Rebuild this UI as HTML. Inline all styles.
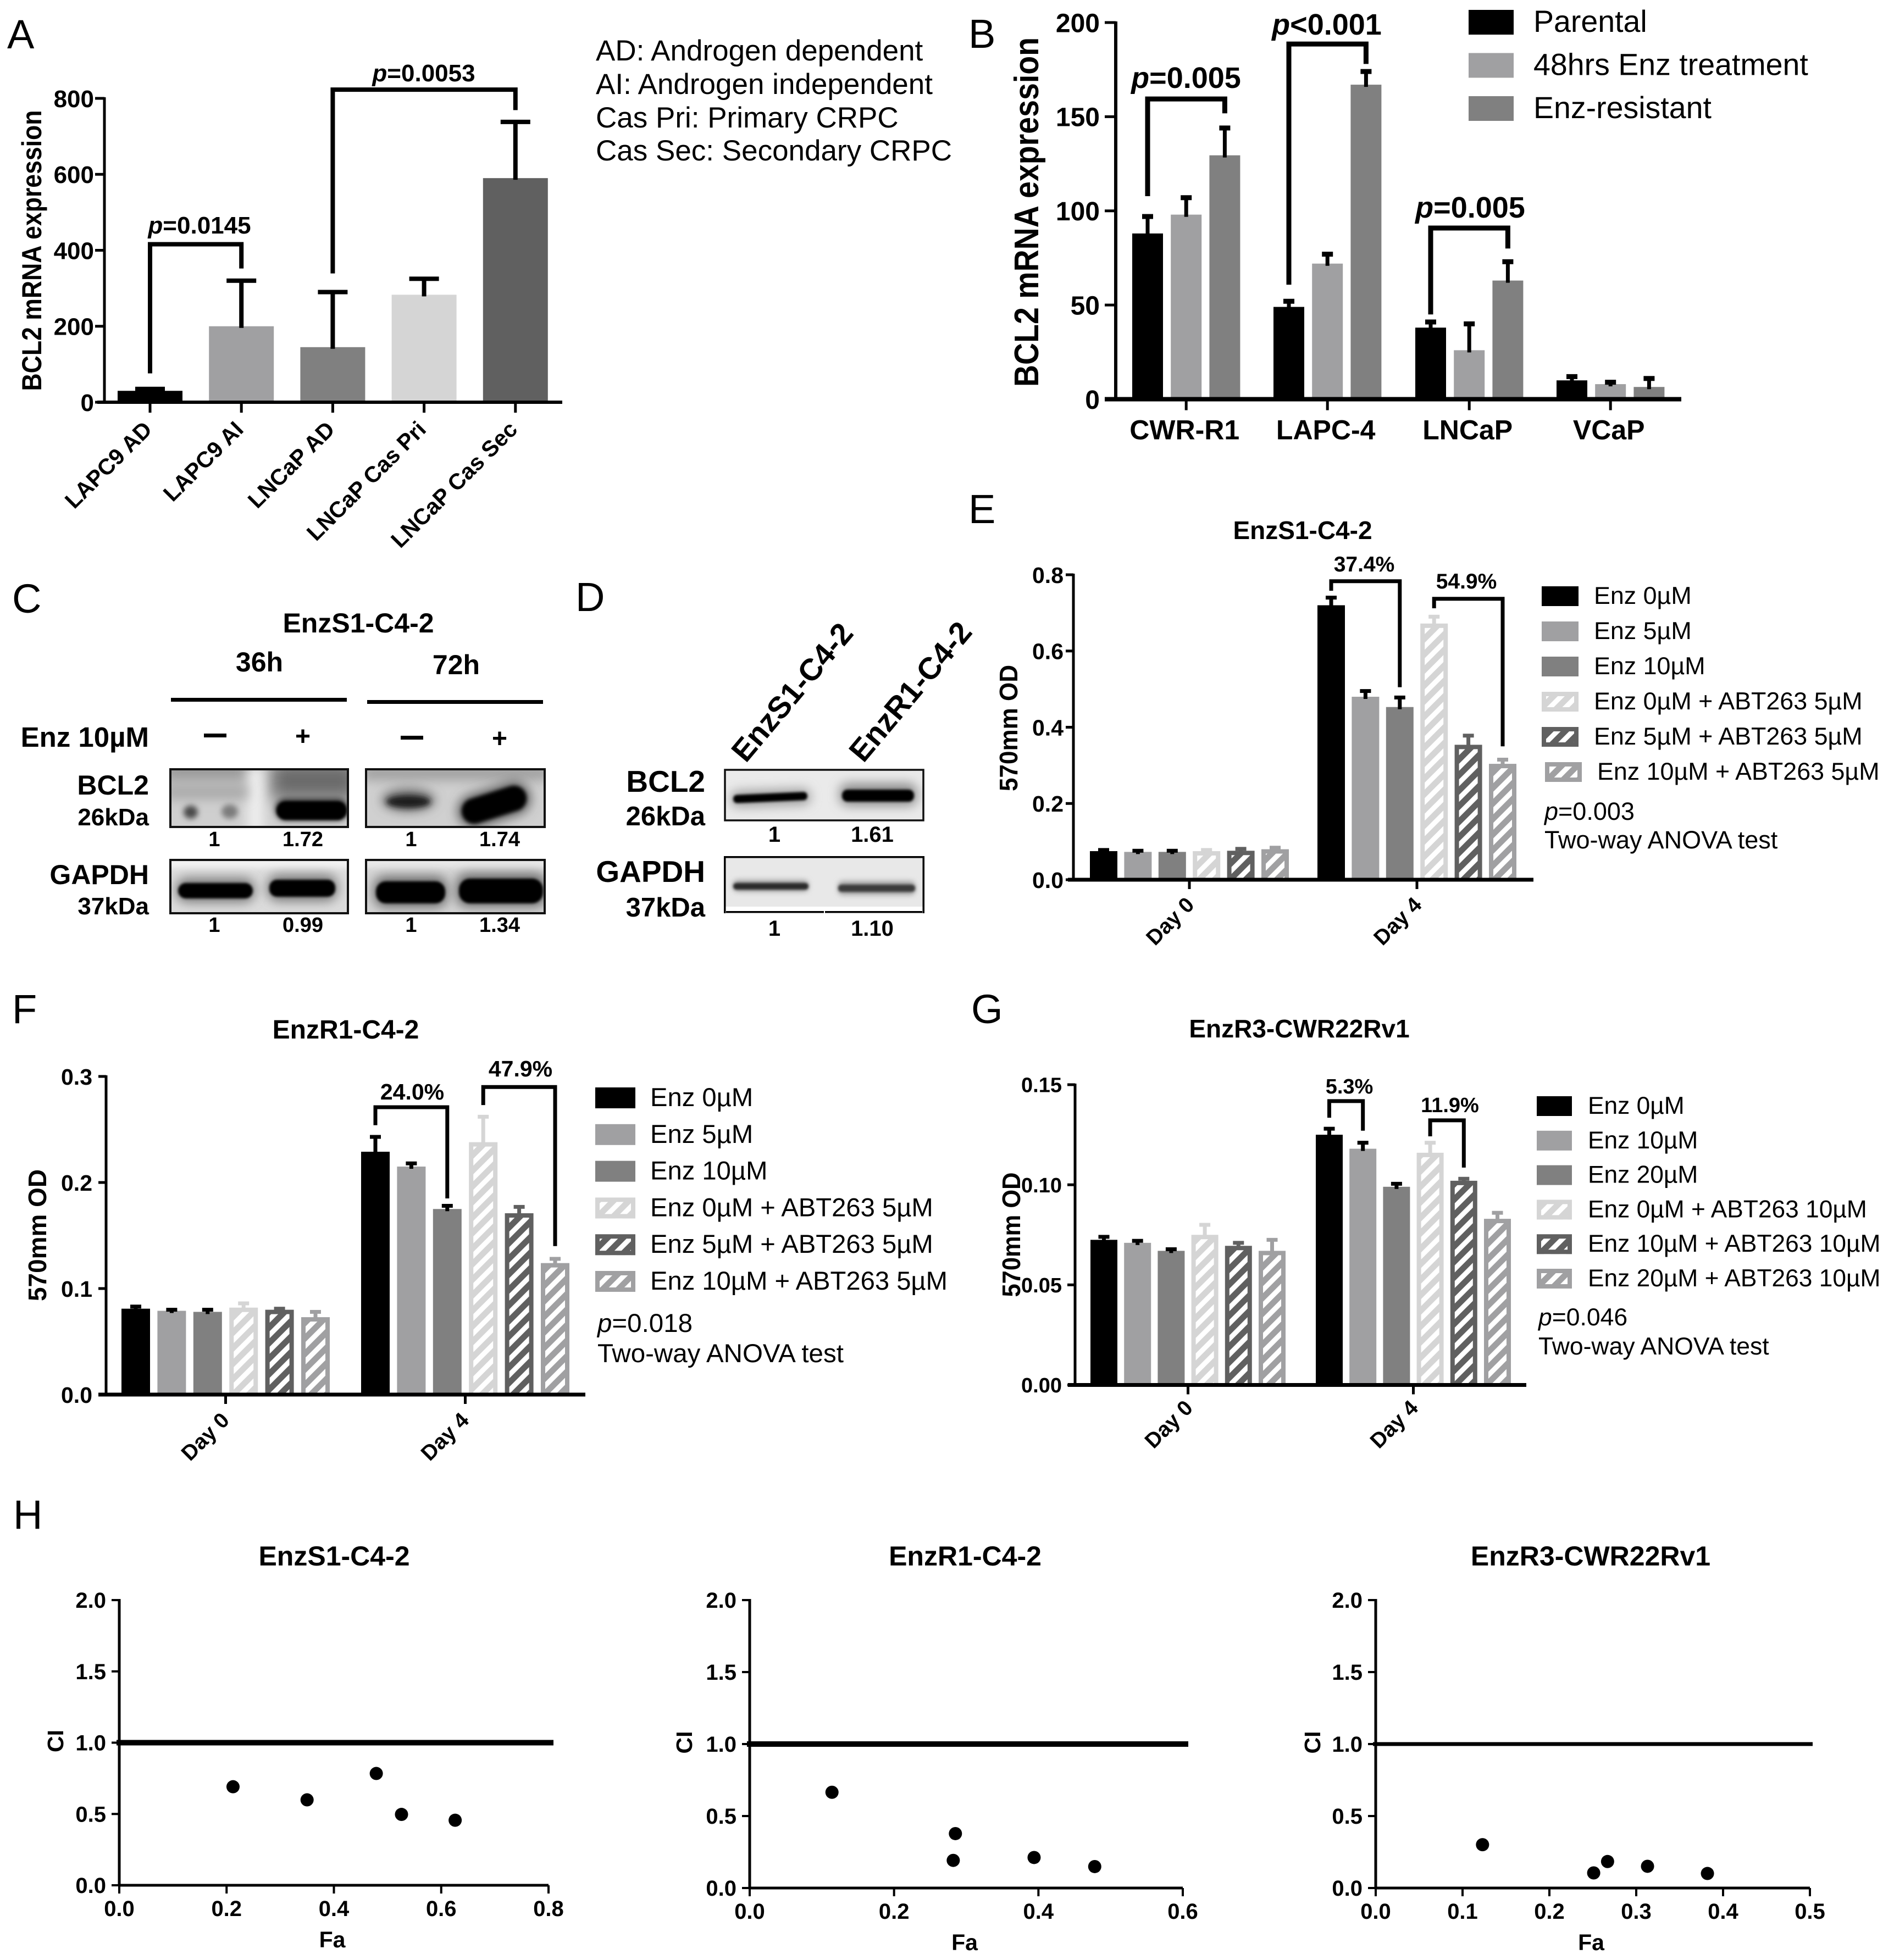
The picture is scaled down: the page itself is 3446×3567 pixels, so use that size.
<!DOCTYPE html>
<html lang="en">
<head>
<meta charset="utf-8">
<title>BCL2 expression multi-panel figure</title>
<style>
html,body{margin:0;padding:0;background:#fff;}
svg{display:block;}
text{font-family:"Liberation Sans",sans-serif;fill:#000;}
.b{font-weight:bold;}
</style>
</head>
<body>
<svg id="fig" xmlns="http://www.w3.org/2000/svg" width="3446" height="3567" viewBox="0 0 3446 3567">
<defs>
<filter id="b2" x="-100%" y="-200%" width="300%" height="500%"><feGaussianBlur stdDeviation="2.5"/></filter>
<filter id="b5" x="-100%" y="-200%" width="300%" height="500%"><feGaussianBlur stdDeviation="5"/></filter>
<filter id="b10" x="-100%" y="-200%" width="300%" height="500%"><feGaussianBlur stdDeviation="10"/></filter>
<filter id="b16" x="-100%" y="-200%" width="300%" height="500%"><feGaussianBlur stdDeviation="16"/></filter>
<filter id="bl2" filterUnits="userSpaceOnUse" x="650" y="1380" width="360" height="150"><feGaussianBlur stdDeviation="3.5"/></filter>
<filter id="bl10" filterUnits="userSpaceOnUse" x="650" y="1380" width="360" height="150"><feGaussianBlur stdDeviation="10"/></filter>
<clipPath id="c1"><rect x="310" y="1400" width="323" height="105"/></clipPath>
<clipPath id="c2"><rect x="666" y="1400" width="325" height="105"/></clipPath>
<clipPath id="c3"><rect x="310" y="1565" width="323" height="97"/></clipPath>
<clipPath id="c4"><rect x="666" y="1565" width="325" height="97"/></clipPath>
<clipPath id="c5"><rect x="1319" y="1401" width="361" height="92"/></clipPath>
<clipPath id="c6"><rect x="1319" y="1560" width="361" height="90"/></clipPath>
</defs>
<rect x="0" y="0" width="3446" height="3567" fill="#fff"/>

<!-- panel letters -->
<text x="13" y="88" font-size="74">A</text>
<text x="1762" y="87" font-size="74">B</text>
<text x="22" y="1115" font-size="74">C</text>
<text x="1047" y="1112" font-size="74">D</text>
<text x="1762" y="952" font-size="74">E</text>
<text x="22" y="1862" font-size="74">F</text>
<text x="1767" y="1862" font-size="74">G</text>
<text x="24" y="2782" font-size="74">H</text>

<!-- panel A notes -->
<g font-size="53">
<text x="1084" y="110">AD: Androgen dependent</text>
<text x="1084" y="171">AI: Androgen independent</text>
<text x="1084" y="232">Cas Pri: Primary CRPC</text>
<text x="1084" y="292">Cas Sec: Secondary CRPC</text>
</g>
<text class="b" x="363" y="425" font-size="44" text-anchor="middle"><tspan font-style="italic">p</tspan>=0.0145</text>
<text class="b" x="771" y="148" font-size="44" text-anchor="middle"><tspan font-style="italic">p</tspan>=0.0053</text>

<!-- panel B annotations -->
<text class="b" x="2158" y="160" font-size="54" text-anchor="middle"><tspan font-style="italic">p</tspan>=0.005</text>
<text class="b" x="2414" y="63" font-size="54" text-anchor="middle"><tspan font-style="italic">p</tspan>&lt;0.001</text>
<text class="b" x="2675" y="396" font-size="54" text-anchor="middle"><tspan font-style="italic">p</tspan>=0.005</text>

<!-- panel C: western blots -->
<g>
<text class="b" x="652" y="1151" font-size="50" text-anchor="middle">EnzS1-C4-2</text>
<text class="b" x="472" y="1222" font-size="50" text-anchor="middle">36h</text>
<text class="b" x="830" y="1227" font-size="50" text-anchor="middle">72h</text>
<rect x="311" y="1270" width="320" height="7"/>
<rect x="668" y="1274" width="320" height="7"/>
<text class="b" x="271" y="1359" font-size="51" text-anchor="end">Enz 10µM</text>
<rect x="371" y="1335" width="41" height="7"/>
<rect x="729" y="1339" width="41" height="7"/>
<text class="b" x="551" y="1356" font-size="48" text-anchor="middle">+</text>
<text class="b" x="909" y="1360" font-size="48" text-anchor="middle">+</text>
<text class="b" x="271" y="1446" font-size="50" text-anchor="end">BCL2</text>
<text class="b" x="271" y="1502" font-size="44" text-anchor="end">26kDa</text>
<text class="b" x="271" y="1609" font-size="50" text-anchor="end">GAPDH</text>
<text class="b" x="271" y="1664" font-size="44" text-anchor="end">37kDa</text>

<g clip-path="url(#c1)">
<rect x="310" y="1400" width="323" height="105" fill="#cfcfcf"/>
<rect x="290" y="1385" width="175" height="34" fill="#8c8c8c" filter="url(#b16)"/>
<rect x="492" y="1385" width="160" height="70" fill="#6a6a6a" filter="url(#b16)"/>
<rect x="450" y="1395" width="30" height="120" fill="#eeeeee" filter="url(#b10)"/>
<rect x="300" y="1430" width="150" height="24" fill="#a8a8a8" filter="url(#b10)"/>
<ellipse cx="347" cy="1478" rx="13" ry="12" fill="#4a4a4a" filter="url(#b5)"/>
<ellipse cx="418" cy="1477" rx="15" ry="13" fill="#7c7c7c" filter="url(#b5)"/>
<rect x="500" y="1452" width="134" height="42" rx="20" fill="#444" filter="url(#b5)"/>
<rect x="503" y="1458" width="128" height="34" rx="17" fill="#000" filter="url(#b2)"/>
</g>
<rect x="310" y="1400" width="323" height="105" fill="none" stroke="#111" stroke-width="4"/>

<g clip-path="url(#c2)">
<rect x="666" y="1400" width="325" height="105" fill="#d0d0d0"/>
<rect x="660" y="1392" width="340" height="28" fill="#a0a0a0" filter="url(#b10)"/>
<ellipse cx="743" cy="1456" rx="48" ry="20" fill="#666" filter="url(#b10)"/>
<ellipse cx="743" cy="1459" rx="40" ry="11" fill="#1c1c1c" filter="url(#b5)"/>
<line x1="863" y1="1476" x2="935" y2="1453" stroke="#555" stroke-width="60" stroke-linecap="round" filter="url(#bl10)"/>
<line x1="863" y1="1476" x2="935" y2="1453" stroke="#000" stroke-width="46" stroke-linecap="round" filter="url(#bl2)"/>
</g>
<rect x="666" y="1400" width="325" height="105" fill="none" stroke="#111" stroke-width="4"/>

<g clip-path="url(#c3)">
<rect x="310" y="1565" width="323" height="97" fill="#dcdcdc"/>
<rect x="300" y="1560" width="340" height="20" fill="#f2f2f2" filter="url(#b5)"/>
<rect x="320" y="1598" width="144" height="44" rx="20" fill="#777" filter="url(#b10)"/>
<rect x="486" y="1592" width="128" height="48" rx="20" fill="#777" filter="url(#b10)"/>
<rect x="324" y="1607" width="136" height="28" rx="14" fill="#000" filter="url(#b2)"/>
<rect x="490" y="1601" width="120" height="31" rx="14" fill="#000" filter="url(#b2)"/>
</g>
<rect x="310" y="1565" width="323" height="97" fill="none" stroke="#111" stroke-width="4"/>

<g clip-path="url(#c4)">
<rect x="666" y="1565" width="325" height="97" fill="#d4d4d4"/>
<rect x="660" y="1560" width="340" height="20" fill="#e8e8e8" filter="url(#b5)"/>
<rect x="680" y="1595" width="134" height="56" rx="20" fill="#666" filter="url(#b10)"/>
<rect x="830" y="1590" width="164" height="60" rx="20" fill="#666" filter="url(#b10)"/>
<rect x="684" y="1604" width="126" height="40" rx="18" fill="#000" filter="url(#b2)"/>
<rect x="835" y="1599" width="153" height="45" rx="20" fill="#000" filter="url(#b2)"/>
</g>
<rect x="666" y="1565" width="325" height="97" fill="none" stroke="#111" stroke-width="4"/>

<text class="b" x="390" y="1540" font-size="38" text-anchor="middle">1</text>
<text class="b" x="551" y="1540" font-size="38" text-anchor="middle">1.72</text>
<text class="b" x="748" y="1540" font-size="38" text-anchor="middle">1</text>
<text class="b" x="909" y="1540" font-size="38" text-anchor="middle">1.74</text>
<text class="b" x="390" y="1696" font-size="38" text-anchor="middle">1</text>
<text class="b" x="551" y="1696" font-size="38" text-anchor="middle">0.99</text>
<text class="b" x="748" y="1696" font-size="38" text-anchor="middle">1</text>
<text class="b" x="909" y="1696" font-size="38" text-anchor="middle">1.34</text>
</g>

<!-- panel D: western blots -->
<g>
<text class="b" x="1357" y="1390" font-size="56" transform="rotate(-50 1357 1390)">EnzS1-C4-2</text>
<text class="b" x="1571" y="1390" font-size="56" transform="rotate(-50 1571 1390)">EnzR1-C4-2</text>
<text class="b" x="1283" y="1441" font-size="55" text-anchor="end">BCL2</text>
<text class="b" x="1283" y="1502" font-size="49" text-anchor="end">26kDa</text>
<text class="b" x="1283" y="1605" font-size="55" text-anchor="end">GAPDH</text>
<text class="b" x="1283" y="1668" font-size="49" text-anchor="end">37kDa</text>

<g clip-path="url(#c5)">
<rect x="1319" y="1401" width="361" height="92" fill="#eaeaea"/>
<rect x="1330" y="1438" width="144" height="28" rx="12" fill="#999" filter="url(#b10)" transform="rotate(-2 1400 1452)"/>
<rect x="1528" y="1426" width="140" height="40" rx="14" fill="#888" filter="url(#b10)"/>
<rect x="1334" y="1444" width="135" height="15" rx="7" fill="#000" filter="url(#b2)" transform="rotate(-2.5 1400 1452)"/>
<rect x="1532" y="1437" width="131" height="22" rx="10" fill="#000" filter="url(#b2)"/>
</g>
<rect x="1319" y="1401" width="361" height="92" fill="none" stroke="#111" stroke-width="3.5"/>

<g clip-path="url(#c6)">
<rect x="1319" y="1560" width="361" height="90" fill="#e8e8e8"/>
<rect x="1334" y="1602" width="137" height="20" rx="8" fill="#999" filter="url(#b5)"/>
<rect x="1525" y="1604" width="140" height="24" rx="8" fill="#999" filter="url(#b5)"/>
<rect x="1334" y="1607" width="137" height="12" rx="6" fill="#2a2a2a" filter="url(#b2)"/>
<rect x="1525" y="1610" width="140" height="13" rx="6" fill="#3a3a3a" filter="url(#b2)"/>
</g>
<rect x="1317" y="1558" width="365" height="3.5"/>
<rect x="1317" y="1558" width="3.5" height="104"/>
<rect x="1678.5" y="1558" width="3.5" height="104"/>
<rect x="1321" y="1658" width="178" height="3.5"/>
<rect x="1501" y="1658" width="177" height="3.5"/>

<text class="b" x="1409" y="1532" font-size="40" text-anchor="middle">1</text>
<text class="b" x="1587" y="1532" font-size="40" text-anchor="middle">1.61</text>
<text class="b" x="1409" y="1703" font-size="40" text-anchor="middle">1</text>
<text class="b" x="1587" y="1703" font-size="40" text-anchor="middle">1.10</text>
</g>

<!-- panel E,F,G titles and annotations -->
<text class="b" x="2370" y="981" font-size="46" text-anchor="middle">EnzS1-C4-2</text>
<text class="b" x="2482" y="1040" font-size="39" text-anchor="middle">37.4%</text>
<text class="b" x="2668" y="1071" font-size="39" text-anchor="middle">54.9%</text>
<text x="2810" y="1492" font-size="45"><tspan font-style="italic">p</tspan>=0.003</text>
<text x="2810" y="1544" font-size="45">Two-way ANOVA test</text>

<text class="b" x="629" y="1890" font-size="48" text-anchor="middle">EnzR1-C4-2</text>
<text class="b" x="750" y="2001" font-size="41" text-anchor="middle">24.0%</text>
<text class="b" x="947" y="1959" font-size="41" text-anchor="middle">47.9%</text>
<text x="1087" y="2424" font-size="47.5"><tspan font-style="italic">p</tspan>=0.018</text>
<text x="1087" y="2479" font-size="47.5">Two-way ANOVA test</text>

<text class="b" x="2364" y="1888" font-size="46" text-anchor="middle">EnzR3-CWR22Rv1</text>
<text class="b" x="2455" y="1990" font-size="38" text-anchor="middle">5.3%</text>
<text class="b" x="2638" y="2024" font-size="38" text-anchor="middle">11.9%</text>
<text x="2799" y="2412" font-size="44.5"><tspan font-style="italic">p</tspan>=0.046</text>
<text x="2799" y="2465" font-size="44.5">Two-way ANOVA test</text>

<!-- panel H titles -->
<text class="b" x="608" y="2849" font-size="50" text-anchor="middle">EnzS1-C4-2</text>
<text class="b" x="1756" y="2849" font-size="50" text-anchor="middle">EnzR1-C4-2</text>
<text class="b" x="2894" y="2849" font-size="50" text-anchor="middle">EnzR3-CWR22Rv1</text>

<g id="charts"></g>
</svg>

<script>
// ---------- Panel A ----------
const aCategories = ['LAPC9 AD', 'LAPC9 AI', 'LNCaP AD', 'LNCaP Cas Pri', 'LNCaP Cas Sec'];
const aValues = [30, 200, 145, 283, 590];
const aErrorTops = [35, 320, 290, 325, 738];
const aTickValues = [0, 200, 400, 600, 800];
const aTickLabels = ['0', '200', '400', '600', '800'];
const aBracket1 = [0, 1, 416, 76, 352];
const aBracket2 = [2, 4, 823, 339, 769];

// ---------- Panel B ----------
const bCategories = ['CWR-R1', 'LAPC-4', 'LNCaP', 'VCaP'];
const bSeries = ['Parental', '48hrs Enz treatment', 'Enz-resistant'];
const bParental = [88, 49, 38, 10];
const bTreated = [98, 72, 26, 8];
const bResistant = [129.5, 167, 63, 6.5];
const bParentalTops = [97, 52, 41, 12];
const bTreatedTops = [107, 77, 40, 9];
const bResistantTops = [144, 174, 73, 11];
const bTickValues = [0, 50, 100, 150, 200];
const bTickLabels = ['0', '50', '100', '150', '200'];
const bBracket1 = [0, 0, 2, 159.4, 107.8, 151.8];
const bBracket2 = [1, 0, 2, 188.6, 60.8, 178];
const bBracket3 = [2, 0, 2, 90.9, 45, 80];

// ---------- Panel E ----------
const eSeries = ['Enz 0µM', 'Enz 5µM', 'Enz 10µM', 'Enz 0µM + ABT263 5µM', 'Enz 5µM + ABT263 5µM', 'Enz 10µM + ABT263 5µM'];
const dayCategories = ['Day 0', 'Day 4'];
const eDay0 = [0.075, 0.073, 0.073, 0.075, 0.076, 0.080];
const eDay4 = [0.72, 0.48, 0.453, 0.672, 0.354, 0.304];
const eDay0Tops = [0.078, 0.076, 0.076, 0.078, 0.081, 0.084];
const eDay4Tops = [0.74, 0.495, 0.478, 0.69, 0.378, 0.315];
const eTickValues = [0, 0.2, 0.4, 0.6, 0.8];
const eTickLabels = ['0.0', '0.2', '0.4', '0.6', '0.8'];
const eBracket1 = [1, 0, 2, 0.783, 0.758, 0.505];
const eBracket2 = [1, 3, 5, 0.737, 0.712, 0.350];

// ---------- Panel F ----------
const fSeries = ['Enz 0µM', 'Enz 5µM', 'Enz 10µM', 'Enz 0µM + ABT263 5µM', 'Enz 5µM + ABT263 5µM', 'Enz 10µM + ABT263 5µM'];
const fDay0 = [0.081, 0.079, 0.078, 0.082, 0.080, 0.073];
const fDay4 = [0.229, 0.215, 0.175, 0.238, 0.171, 0.124];
const fDay0Tops = [0.083, 0.080, 0.080, 0.086, 0.081, 0.078];
const fDay4Tops = [0.243, 0.218, 0.178, 0.262, 0.177, 0.128];
const fTickValues = [0, 0.1, 0.2, 0.3];
const fTickLabels = ['0.0', '0.1', '0.2', '0.3'];
const fBracket1 = [1, 0, 2, 0.271, 0.254, 0.185];
const fBracket2 = [1, 3, 5, 0.290, 0.273, 0.140];

// ---------- Panel G ----------
const gSeries = ['Enz 0µM', 'Enz 10µM', 'Enz 20µM', 'Enz 0µM + ABT263 10µM', 'Enz 10µM + ABT263 10µM', 'Enz 20µM + ABT263 10µM'];
const gDay0 = [0.0725, 0.071, 0.067, 0.075, 0.0695, 0.067];
const gDay4 = [0.125, 0.118, 0.099, 0.116, 0.102, 0.083];
const gDay0Tops = [0.074, 0.072, 0.0678, 0.080, 0.071, 0.0725];
const gDay4Tops = [0.128, 0.121, 0.1005, 0.121, 0.103, 0.086];
const gTickValues = [0, 0.05, 0.10, 0.15];
const gTickLabels = ['0.00', '0.05', '0.10', '0.15'];
const gBracket1 = [1, 0, 1, 0.1418, 0.1335, 0.127];
const gBracket2 = [1, 3, 4, 0.1322, 0.1242, 0.1086];

// ---------- Panel H ----------
const h1Fa = [0.212, 0.35, 0.479, 0.526, 0.626];
const h1Ci = [0.691, 0.599, 0.784, 0.497, 0.456];
const h2Fa = [0.114, 0.285, 0.282, 0.394, 0.478];
const h2Ci = [0.665, 0.378, 0.192, 0.212, 0.149];
const h3Fa = [0.123, 0.251, 0.267, 0.313, 0.382];
const h3Ci = [0.301, 0.105, 0.184, 0.151, 0.101];
const hYTicks = [0, 0.5, 1.0, 1.5, 2.0];
const hYLabels = ['0.0', '0.5', '1.0', '1.5', '2.0'];
const h1XTicks = [0, 0.2, 0.4, 0.6, 0.8];
const h1XLabels = ['0.0', '0.2', '0.4', '0.6', '0.8'];
const h2XTicks = [0, 0.2, 0.4, 0.6];
const h2XLabels = ['0.0', '0.2', '0.4', '0.6'];
const h3XTicks = [0, 0.1, 0.2, 0.3, 0.4, 0.5];
const h3XLabels = ['0.0', '0.1', '0.2', '0.3', '0.4', '0.5'];
const referenceCi = 1.0;

// ---------- Styling (not data) ----------
const C_BLACK = '#000', C_MID = '#a0a0a2', C_DARK = '#808080', C_LIGHT = '#d5d5d5', C_DEEP = '#606060';
const sixStyles = [
  {fill: C_BLACK, err: '#000'},
  {fill: C_MID, err: '#000'},
  {fill: C_DARK, err: '#000'},
  {fill: C_LIGHT, err: C_LIGHT, hatch: true},
  {fill: C_DEEP, err: C_DEEP, hatch: true},
  {fill: C_MID, err: C_MID, hatch: true}
];
const threeStyles = [{fill: C_BLACK, err: '#000'}, {fill: C_MID, err: '#000'}, {fill: C_DARK, err: '#000'}];
const fiveStyles = [{fill: C_BLACK, err: '#000'}, {fill: C_MID, err: '#000'}, {fill: C_DARK, err: '#000'}, {fill: C_LIGHT, err: '#000'}, {fill: C_DEEP, err: '#000'}];

const NS = 'http://www.w3.org/2000/svg';
const root = document.getElementById('charts');
const defs = document.querySelector('#fig defs');

function mk(tag, attrs, parent, txt) {
  const e = document.createElementNS(NS, tag);
  for (const k in attrs) e.setAttribute(k, attrs[k]);
  if (txt !== undefined) e.textContent = txt;
  parent.appendChild(e);
  return e;
}

// white hatch pattern
const hatch = mk('pattern', {id: 'hatch', patternUnits: 'userSpaceOnUse', width: 20, height: 20, patternTransform: 'rotate(45)'}, defs);
mk('rect', {x: 0, y: 0, width: 9, height: 20, fill: '#fff'}, hatch);

function drawHatched(g, x, y, w, h, color, border) {
  const outer = mk('rect', {x: x, y: y, width: w, height: h, fill: color}, g);
  
  
  const inner = mk('rect', {x: x + border, y: y + border, width: Math.max(0, w - 2 * border), height: Math.max(0, h - border), fill: 'url(#hatch)'}, g);
  
  
}

function drawYTitle(parent, text, cx, cy, len, size) {
  const t = mk('text', {x: cx, y: cy, 'font-size': size, 'font-weight': 'bold', 'text-anchor': 'middle', textLength: len, lengthAdjust: 'spacingAndGlyphs', transform: 'rotate(-90 ' + cx + ' ' + cy + ')'}, parent, text);
  
  
}

function drawBarChart(c) {
  const g = mk('g', {}, root);
  
  
  const y = v => c.y0 - (v / c.yMax) * (c.y0 - c.y1);
  const barX = (gi, si) => c.starts[gi] + si * c.step;
  const barC = (gi, si) => barX(gi, si) + c.barW / 2;

  // bars
  c.values.forEach((grp, gi) => {
    grp.forEach((v, si) => {
      const st = c.styles[si];
      if (st.hatch) {
        drawHatched(g, barX(gi, si), y(v), c.barW, c.y0 - y(v), st.fill, 8);
      } else {
        const r = mk('rect', {x: barX(gi, si), y: y(v), width: c.barW, height: c.y0 - y(v), fill: st.fill}, g);
        
        
      }
    });
  });
  // error bars
  c.tops.forEach((grp, gi) => {
    grp.forEach((v, si) => {
      const st = c.styles[si];
      const cx = barC(gi, si);
      const stem = mk('rect', {x: cx - c.errW / 2, y: y(v), width: c.errW, height: Math.max(0, y(c.values[gi][si]) - y(v)) + c.errIn, fill: st.err}, g);
      
      
      const cap = mk('rect', {x: cx - c.capW / 2, y: y(v) - c.capH / 2, width: c.capW, height: c.capH, fill: st.err}, g);
      
      
    });
  });
  // axes
  const xAxis = mk('rect', {x: c.axisStart, y: c.y0 - c.xw / 2, width: c.axisEnd - c.axisStart, height: c.xw, fill: '#000'}, g);
  
  
  const yAxis = mk('rect', {x: c.ax - c.yw / 2, y: c.y1 - 2, width: c.yw, height: c.y0 - c.y1 + 2, fill: '#000'}, g);
  
  
  c.ticks.forEach((v, i) => {
    const tk = mk('rect', {x: c.ax - c.tickLenY, y: y(v) - 2.5, width: c.tickLenY, height: 5, fill: '#000'}, g);
    
    
    const lb = mk('text', {x: c.labelRight, y: y(v) + c.tickSize * 0.36, 'font-size': c.tickSize, 'font-weight': 'bold', 'text-anchor': 'end'}, g, c.tickLabels[i]);
    
    
  });
  // x ticks + labels
  const centers = c.perBar
    ? c.values[0].map((_, si) => barC(0, si))
    : c.values.map((grp, gi) => barC(gi, (grp.length - 1) / 2));
  centers.forEach((cx, i) => {
    const tk = mk('rect', {x: cx - 2.5, y: c.y0, width: 5, height: c.tickLenX, fill: '#000'}, g);
    
    
    if (c.labelRot) {
      const lx = cx + c.labelDx, ly = c.y0 + c.labelDy;
      const lb = mk('text', {x: lx, y: ly, 'font-size': c.labelSize, 'font-weight': 'bold', 'text-anchor': 'end', transform: 'rotate(-45 ' + lx + ' ' + ly + ')'}, g, c.categories[i]);
      
      
    } else {
      const lb = mk('text', {x: cx + c.labelDx, y: c.y0 + c.labelDy, 'font-size': c.labelSize, 'font-weight': 'bold', 'text-anchor': 'middle'}, g, c.categories[i]);
      
      
    }
  });
  drawYTitle(g, c.yTitle, c.titleX, c.titleY, c.titleLen, c.titleSize);
  // brackets
  c.brackets.forEach(b => {
    const xa = barC(b.g, b.from), xb = barC(b.g, b.to);
    const pts = [xa, y(b.left), xa, y(b.top), xb, y(b.top), xb, y(b.right)].join(' ');
    const br = mk('polyline', {points: pts, fill: 'none', stroke: '#000', 'stroke-width': c.brW, 'stroke-linejoin': 'miter'}, g);
    
    
  });
  // legend
  if (c.legend) {
    const L = c.legend;
    L.labels.forEach((txt, i) => {
      const last = i === L.labels.length - 1 && L.lastShift ? L.lastShift : 0;
      const sy = L.y + i * L.pitch;
      const st = c.styles[i];
      if (st.hatch) {
        drawHatched(g, L.x + last, sy, L.w, L.h, st.fill, 8);
        const closeB = mk('rect', {x: L.x + last, y: sy + L.h - 8, width: L.w, height: 8, fill: st.fill}, g);
        
        
      } else {
        const sw = mk('rect', {x: L.x + last, y: sy, width: L.w, height: L.h, fill: st.fill}, g);
        
        
      }
      const t = mk('text', {x: L.tx + last, y: sy + L.dy, 'font-size': L.size}, g, txt);
      
      
    });
  }
}

function bracketOf(arr, grp) {
  return grp === undefined
    ? {g: 0, from: arr[0], to: arr[1], top: arr[2], left: arr[3], right: arr[4]}
    : {g: grp, from: arr[1], to: arr[2], top: arr[3], left: arr[4], right: arr[5]};
}

// Panel A
drawBarChart({
  name: 'chart-a-bcl2-mrna', categories: aCategories, perBar: true,
  values: [aValues], tops: [aErrorTops], styles: fiveStyles,
  starts: [214], step: 166.2, barW: 118,
  y0: 732, y1: 179, yMax: 800, ax: 190, yw: 5, xw: 6, axisStart: 177, axisEnd: 1023,
  ticks: aTickValues, tickLabels: aTickLabels, tickLenY: 17, tickLenX: 19, tickSize: 44, labelRight: 171,
  labelRot: true, labelDx: 6, labelDy: 52, labelSize: 41,
  errW: 8, errIn: 3, capW: 54, capH: 8,
  yTitle: 'BCL2 mRNA expression', titleX: 75, titleY: 456, titleLen: 511, titleSize: 50,
  brW: 8, brackets: [bracketOf(aBracket1), bracketOf(aBracket2)]
});

// Panel B
drawBarChart({
  name: 'chart-b-bcl2-mrna', categories: bCategories,
  values: bCategories.map((_, i) => [bParental[i], bTreated[i], bResistant[i]]),
  tops: bCategories.map((_, i) => [bParentalTops[i], bTreatedTops[i], bResistantTops[i]]),
  styles: threeStyles,
  starts: [2060, 2317, 2575, 2832], step: 70.2, barW: 56,
  y0: 726.5, y1: 41, yMax: 200, ax: 2030, yw: 6, xw: 8, axisStart: 2010, axisEnd: 3059,
  ticks: bTickValues, tickLabels: bTickLabels, tickLenY: 20, tickLenX: 20, tickSize: 48, labelRight: 2001,
  labelSize: 50, labelDx: -3, labelDy: 73,
  errW: 7, errIn: 4, capW: 20, capH: 9,
  yTitle: 'BCL2 mRNA expression', titleX: 1889, titleY: 386, titleLen: 636, titleSize: 62,
  brW: 9, brackets: [bracketOf(bBracket1, bBracket1[0]), bracketOf(bBracket2, bBracket2[0]), bracketOf(bBracket3, bBracket3[0])],
  legend: {labels: bSeries, x: 2672, tx: 2790, y: 18, w: 82, h: 45, pitch: 78.5, dy: 40, size: 55.5}
});

// Panel E
drawBarChart({
  name: 'chart-e-viability', categories: dayCategories, labelRot: true,
  values: [eDay0, eDay4], tops: [eDay0Tops, eDay4Tops], styles: sixStyles,
  starts: [1983, 2397], step: 62.4, barW: 50,
  y0: 1601, y1: 1046, yMax: 0.8, ax: 1953, yw: 5, xw: 7, axisStart: 1943, axisEnd: 2790,
  ticks: eTickValues, tickLabels: eTickLabels, tickLenY: 14, tickLenX: 17, tickSize: 41, labelRight: 1935,
  labelDx: 11, labelDy: 48, labelSize: 39,
  errW: 7, errIn: 4, capW: 20, capH: 7,
  yTitle: '570mm OD', titleX: 1851, titleY: 1325, titleLen: 230, titleSize: 46,
  brW: 7, brackets: [bracketOf(eBracket1, eBracket1[0]), bracketOf(eBracket2, eBracket2[0])],
  legend: {labels: eSeries, x: 2805, tx: 2900, y: 1067, w: 67, h: 36, pitch: 64, dy: 32, size: 44.8, lastShift: 6}
});

// Panel F
drawBarChart({
  name: 'chart-f-viability', categories: dayCategories, labelRot: true,
  values: [fDay0, fDay4], tops: [fDay0Tops, fDay4Tops], styles: sixStyles,
  starts: [221, 657], step: 65.4, barW: 52,
  y0: 2538, y1: 1959, yMax: 0.3, ax: 193, yw: 5, xw: 7, axisStart: 179, axisEnd: 1065,
  ticks: fTickValues, tickLabels: fTickLabels, tickLenY: 14, tickLenX: 17, tickSize: 41, labelRight: 168,
  labelDx: 9, labelDy: 49, labelSize: 39,
  errW: 7, errIn: 4, capW: 20, capH: 7,
  yTitle: '570mm OD', titleX: 84, titleY: 2248, titleLen: 240, titleSize: 46,
  brW: 7, brackets: [bracketOf(fBracket1, fBracket1[0]), bracketOf(fBracket2, fBracket2[0])],
  legend: {labels: fSeries, x: 1083, tx: 1183, y: 1979, w: 73, h: 38, pitch: 66.8, dy: 34, size: 47.2}
});

// Panel G
drawBarChart({
  name: 'chart-g-viability', categories: dayCategories, labelRot: true,
  values: [gDay0, gDay4], tops: [gDay0Tops, gDay4Tops], styles: sixStyles,
  starts: [1984, 2394], step: 61.2, barW: 49,
  y0: 2520.5, y1: 1974, yMax: 0.15, ax: 1956, yw: 5, xw: 7, axisStart: 1943, axisEnd: 2777,
  ticks: gTickValues, tickLabels: gTickLabels, tickLenY: 14, tickLenX: 17, tickSize: 38, labelRight: 1932,
  labelDx: 11, labelDy: 44, labelSize: 39,
  errW: 7, errIn: 4, capW: 20, capH: 7,
  yTitle: '570mm OD', titleX: 1856, titleY: 2247, titleLen: 227, titleSize: 46,
  brW: 7, brackets: [bracketOf(gBracket1, gBracket1[0]), bracketOf(gBracket2, gBracket2[0])],
  legend: {labels: gSeries, x: 2796, tx: 2889, y: 1995, w: 64, h: 36, pitch: 62.8, dy: 32, size: 44.3}
});

function drawScatter(c) {
  const g = mk('g', {}, root);
  
  
  const x = v => c.x0 + (v / c.xMax) * (c.x1 - c.x0);
  const y = v => c.y0 - (v / 2) * (c.y0 - c.y1);
  const xa = mk('rect', {x: c.x0, y: c.y0 - 2.5, width: c.x1 - c.x0, height: 5, fill: '#000'}, g);
  
  
  const ya = mk('rect', {x: c.x0 - 2.5, y: c.y1 - 2, width: 5, height: c.y0 - c.y1 + 4, fill: '#000'}, g);
  
  
  hYTicks.forEach((v, i) => {
    const tk = mk('rect', {x: c.x0 - 14, y: y(v) - 2, width: 14, height: 4, fill: '#000'}, g);
    
    
    const lb = mk('text', {x: c.x0 - 24, y: y(v) + 14, 'font-size': 40, 'font-weight': 'bold', 'text-anchor': 'end'}, g, hYLabels[i]);
    
    
  });
  c.xTicks.forEach((v, i) => {
    const tk = mk('rect', {x: x(v) - 2, y: c.y0, width: 4, height: 15, fill: '#000'}, g);
    
    
    const lb = mk('text', {x: x(v), y: c.y0 + 56, 'font-size': 40, 'font-weight': 'bold', 'text-anchor': 'middle'}, g, c.xLabels[i]);
    
    
  });
  const ref = mk('rect', {x: c.x0 - 5, y: y(referenceCi) - c.refW / 2, width: c.refEnd - c.x0 + 5, height: c.refW, fill: '#000'}, g);
  
  
  c.fa.forEach((v, i) => {
    const d = mk('circle', {cx: x(v), cy: y(c.ci[i]), r: 12, fill: '#000'}, g);
    
    
  });
  const fa = mk('text', {x: (c.x0 + c.x1) / 2 - 3, y: c.y0 + 113, 'font-size': 41, 'font-weight': 'bold', 'text-anchor': 'middle'}, g, 'Fa');
  
  
  const cy = y(referenceCi) - 3;
  const cit = mk('text', {x: c.ciX, y: cy, 'font-size': 41, 'font-weight': 'bold', 'text-anchor': 'middle', transform: 'rotate(-90 ' + c.ciX + ' ' + cy + ')'}, g, 'CI');
  
  
}

drawScatter({name: 'chart-h1-combination-index', fa: h1Fa, ci: h1Ci, xMax: 0.8, xTicks: h1XTicks, xLabels: h1XLabels, x0: 217, x1: 998, y0: 3431, y1: 2912, refW: 10, refEnd: 1007, ciX: 115});
drawScatter({name: 'chart-h2-combination-index', fa: h2Fa, ci: h2Ci, xMax: 0.6, xTicks: h2XTicks, xLabels: h2XLabels, x0: 1364, x1: 2152, y0: 3436, y1: 2912, refW: 10, refEnd: 2162, ciX: 1259});
drawScatter({name: 'chart-h3-combination-index', fa: h3Fa, ci: h3Ci, xMax: 0.5, xTicks: h3XTicks, xLabels: h3XLabels, x0: 2503, x1: 3293, y0: 3436, y1: 2912, refW: 7, refEnd: 3298, ciX: 2402});
</script>
</body>
</html>
